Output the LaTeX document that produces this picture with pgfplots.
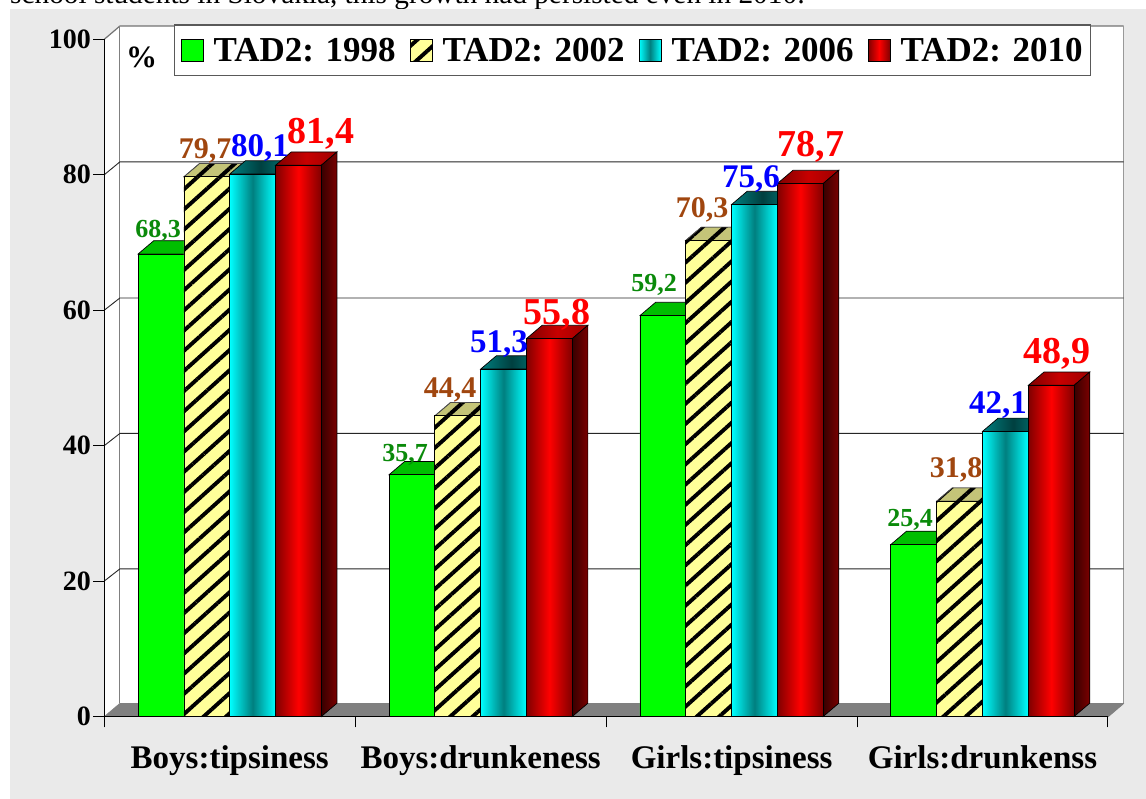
\documentclass[border=0pt]{standalone}
\usepackage{pgfplots}
\pgfplotsset{compat=1.18}
\usepackage{fontspec}
\setmainfont{Liberation Serif}
\usetikzlibrary{patterns.meta}
\definecolor{pagegray}{HTML}{EAEAEA}
\definecolor{ygreen}{HTML}{00FF00}
\definecolor{ygreentop}{HTML}{00BE00}
\definecolor{ystraw}{HTML}{FFFF99}
\definecolor{ystrawtop}{HTML}{C4C478}
\definecolor{lgreen}{HTML}{0A8A0A}
\definecolor{lbrown}{HTML}{A0460F}
\tikzset{
  greenbar/.style={draw=black,line width=0.9pt,fill=ygreen},
  greentop/.style={draw=black,line width=0.7pt,fill=ygreentop},
  strawbar/.style={draw=black,line width=0.9pt,fill=ystraw,postaction={pattern={Lines[angle=42,distance=15pt,line width=3.9pt]},pattern color=black}},
  strawtop/.style={draw=black!70,line width=0.7pt,fill=ystrawtop,postaction={pattern={Lines[angle=42,distance=15pt,line width=3.9pt]},pattern color=black}},
  cyanbar/.style={draw=black,line width=0.9pt,left color=cyan,right color=cyan,middle color=black!50!cyan},
  cyantop/.style={draw=black,line width=0.7pt,left color=black!50!cyan,right color=black!50!cyan,middle color=black!75!cyan},
  redbar/.style={draw=black,line width=0.9pt,left color=red!50!black,right color=red!50!black,middle color=red},
  redtop/.style={draw=black,line width=0.7pt,left color=red!50!black,right color=red!62!black,middle color=red!78!black},
  redside/.style={draw=black,line width=0.7pt,left color=red!22!black,right color=red!48!black},
  lab/.style={anchor=base,font=\bfseries,inner sep=0pt},
}
\newcommand\topf[4]{%
  \pgfmathsetmacro\xa{#2+0.13492+#1*0.18254}%
  \pgfmathsetmacro\xb{\xa+0.18254}%
  \pgfmathsetmacro\xc{\xa+0.0622}%
  \pgfmathsetmacro\xd{\xb+0.0622}%
  \pgfmathsetmacro\vt{#3+1.96}%
  \addplot[forget plot,#4] coordinates {(\xa,#3)(\xb,#3)(\xd,\vt)(\xc,\vt)} -- cycle;%
}
\newcommand\sidef[2]{%
  \pgfmathsetmacro\xb{#1+0.13492+4*0.18254}%
  \pgfmathsetmacro\xd{\xb+0.0622}%
  \pgfmathsetmacro\vt{#2+1.96}%
  \addplot[forget plot,redside] coordinates {(\xb,0)(\xb,#2)(\xd,\vt)(\xd,1.96)} -- cycle;%
}
\begin{document}
\begin{tikzpicture}[x=1pt,y=1pt]
\useasboundingbox (0,0) rectangle (1146,799);
\fill[white] (0,0) rectangle (1146,799);
\node[anchor=base west,inner sep=0pt,font=\fontsize{29.3}{31}\selectfont] at (10,795) {school students in Slovakia, this growth had persisted even in 2010:};
\fill[pagegray] (10,0) rectangle (1146,790);
\begin{axis}[
  at={(104.3pt,82.5pt)},anchor=south west,
  scale only axis,width=1003.7pt,height=677.2pt,
  xmin=0,xmax=4,ymin=0,ymax=100,
  clip=false,axis on top,
  axis x line=bottom,axis y line=left,
  axis line style={-,line width=1.1pt,black},
  tick align=outside,major tick length=11pt,
  tick style={black,line width=1pt},
  ytick={0,20,40,60,80,100},
  xtick={0,1,2,3,4},xticklabels={},
  extra x ticks={0.5,1.5,2.5,3.5},
  extra x tick labels={Boys:tipsiness,Boys:drunkeness,Girls:tipsiness,Girls:drunkenss},
  extra x tick style={tick style={draw=none},tick label style={font=\fontsize{33}{35}\selectfont\bfseries,yshift=-15pt}},
  yticklabel style={font=\fontsize{28}{30}\selectfont\bfseries,/pgf/number format/assume math mode=true,xshift=1pt},
  legend style={at={(0.0694,1.0222)},anchor=north west,legend columns=4,
    draw=black!65,line width=1.3pt,fill=white,inner xsep=6pt,inner ysep=11pt,
    font=\fontsize{35}{37}\selectfont\bfseries,
    /tikz/every even column/.append style={column sep=12pt},
    /tikz/every odd column/.append style={column sep=8pt}},
  legend cell align=left,
  legend image code/.code={\path[#1] (0pt,-11pt) rectangle (22pt,11pt);},
]
% walls and floor
\addplot[forget plot,fill=white,draw=none] coordinates {(0,0)(0.0622,1.96)(0.0622,101.96)(0,100)} -- cycle;
\addplot[forget plot,fill=white,draw=none] coordinates {(0.0622,1.96)(4.0622,1.96)(4.0622,101.96)(0.0622,101.96)} -- cycle;
\addplot[forget plot,fill=black!50,draw=black!50] coordinates {(0,0)(4,0)(4.0622,1.96)(0.0622,1.96)} -- cycle;
\addplot[forget plot,draw=black!55,line width=1.2pt] coordinates {(0,100)(0.0622,101.96)(4.0622,101.96)};
\addplot[forget plot,draw=black!50,line width=1pt] coordinates {(0.0622,1.96)(0.0622,101.96)};
\addplot[forget plot,draw=black!40,line width=1.8pt] coordinates {(4.0622,1.96)(4.0622,101.96)};
\addplot[forget plot,draw=black!50,line width=1.4pt] coordinates {(4,0)(4.0622,1.96)};
\addplot[forget plot,draw=black!85,line width=0.9pt] coordinates {(0,20)(0.0622,21.8)(4.0622,21.8)};
\addplot[forget plot,draw=black!85,line width=0.9pt] coordinates {(0,40)(0.0622,41.8)(4.0622,41.8)};
\addplot[forget plot,draw=black!85,line width=0.9pt] coordinates {(0,60)(0.0622,61.8)(4.0622,61.8)};
\addplot[forget plot,draw=black!85,line width=0.9pt] coordinates {(0,80)(0.0622,81.9)(4.0622,81.9)};
% 1998
\topf{0}{0}{68.3}{greentop}\topf{0}{1}{35.7}{greentop}\topf{0}{2}{59.2}{greentop}\topf{0}{3}{25.4}{greentop}
\addplot[ybar,bar width=45.8pt,bar shift=-68.7pt,greenbar] coordinates {(0.5,68.3)(1.5,35.7)(2.5,59.2)(3.5,25.4)};
\addlegendentry{TAD2: 1998}
% 2002
\topf{1}{0}{79.7}{strawtop}\topf{1}{1}{44.4}{strawtop}\topf{1}{2}{70.3}{strawtop}\topf{1}{3}{31.8}{strawtop}
\addplot[ybar,bar width=45.8pt,bar shift=-22.9pt,strawbar] coordinates {(0.5,79.7)(1.5,44.4)(2.5,70.3)(3.5,31.8)};
\addlegendentry{TAD2: 2002}
% 2006 (one plot per bar, so that each bar has its own shading)
\topf{2}{0}{80.1}{cyantop}\topf{2}{1}{51.3}{cyantop}\topf{2}{2}{75.6}{cyantop}\topf{2}{3}{42.1}{cyantop}
\addplot[ybar,bar width=45.8pt,bar shift=22.9pt,cyanbar] coordinates {(0.5,80.1)};
\addlegendentry{TAD2: 2006}
\addplot[forget plot,ybar,bar width=45.8pt,bar shift=22.9pt,cyanbar] coordinates {(1.5,51.3)};
\addplot[forget plot,ybar,bar width=45.8pt,bar shift=22.9pt,cyanbar] coordinates {(2.5,75.6)};
\addplot[forget plot,ybar,bar width=45.8pt,bar shift=22.9pt,cyanbar] coordinates {(3.5,42.1)};
% 2010
\topf{3}{0}{81.4}{redtop}\topf{3}{1}{55.8}{redtop}\topf{3}{2}{78.7}{redtop}\topf{3}{3}{48.9}{redtop}
\sidef{0}{81.4}\sidef{1}{55.8}\sidef{2}{78.7}\sidef{3}{48.9}
\addplot[ybar,bar width=45.8pt,bar shift=68.7pt,redbar] coordinates {(0.5,81.4)};
\addlegendentry{TAD2: 2010}
\addplot[forget plot,ybar,bar width=45.8pt,bar shift=68.7pt,redbar] coordinates {(1.5,55.8)};
\addplot[forget plot,ybar,bar width=45.8pt,bar shift=68.7pt,redbar] coordinates {(2.5,78.7)};
\addplot[forget plot,ybar,bar width=45.8pt,bar shift=68.7pt,redbar] coordinates {(3.5,48.9)};
\end{axis}
\node[lab,font=\fontsize{31}{33}\selectfont\bfseries] at (141.5,731) {\%};
% value labels
\begin{scope}[every node/.style={lab,text=lgreen,font=\fontsize{26}{28}\selectfont\bfseries}]
\node at (158,561) {68,3};
\node at (405,337) {35,7};
\node at (654,507) {59,2};
\node at (910,272) {25,4};
\end{scope}
\begin{scope}[every node/.style={lab,text=lbrown,font=\fontsize{30}{32}\selectfont\bfseries}]
\node at (205,640) {79,7};
\node at (450,401) {44,4};
\node at (702,581) {70,3};
\node at (956,321) {31,8};
\end{scope}
\begin{scope}[every node/.style={lab,text=blue,font=\fontsize{33}{35}\selectfont\bfseries}]
\node at (260,642) {80,1};
\node at (499,446) {51,3};
\node at (751,611) {75,6};
\node at (998,385) {42,1};
\end{scope}
\begin{scope}[every node/.style={lab,text=red,font=\fontsize{38}{40}\selectfont\bfseries}]
\node at (321,655) {81,4};
\node at (557,474) {55,8};
\node at (811,642) {78,7};
\node at (1057,435) {48,9};
\end{scope}
\end{tikzpicture}
\end{document}
